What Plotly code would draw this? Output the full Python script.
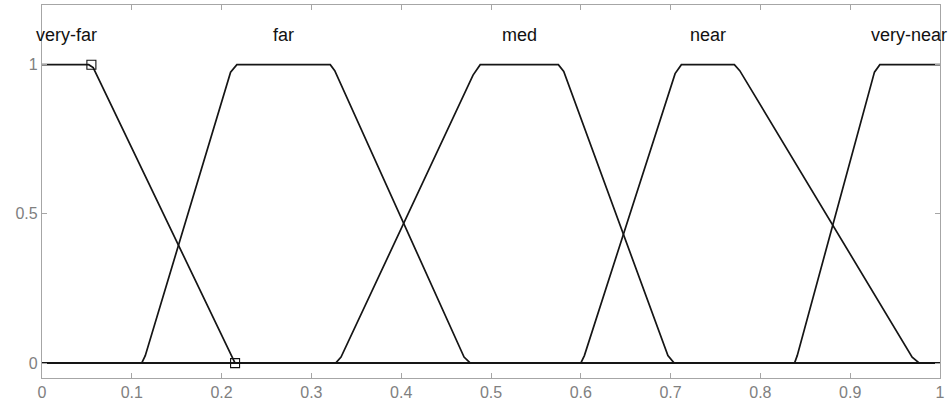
import plotly.graph_objects as go

# Membership functions of the distance variable (x: normalized distance, y: degree).
# Each trapezoid carries a short bevel vertex next to its corners.
x_very_far = [0.0, 0.052, 0.057, 0.215, 1.0]
y_very_far = [1.0, 1.0, 0.99, 0.0, 0.0]

x_far = [0.0, 0.111, 0.115, 0.210, 0.217, 0.321, 0.326, 0.470, 0.477, 1.0]
y_far = [0.0, 0.0, 0.025, 0.975, 1.0, 1.0, 0.98, 0.02, 0.0, 0.0]

x_med = [0.0, 0.327, 0.333, 0.480, 0.488, 0.575, 0.581, 0.697, 0.704, 1.0]
y_med = [0.0, 0.0, 0.02, 0.965, 1.0, 1.0, 0.977, 0.025, 0.0, 0.0]

x_near = [0.0, 0.600, 0.604, 0.705, 0.712, 0.771, 0.777, 0.969, 0.977, 1.0]
y_near = [0.0, 0.0, 0.025, 0.97, 1.0, 1.0, 0.98, 0.02, 0.0, 0.0]

x_very_near = [0.0, 0.838, 0.841, 0.927, 0.933, 1.0]
y_very_near = [0.0, 0.0, 0.025, 0.975, 1.0, 1.0]

set_names = ["very-far", "far", "med", "near", "very-near"]
label_x = [0.0275, 0.269, 0.5315, 0.742, 0.9655]
label_y = 1.10

# Marked breakpoints of the very-far set
marker_x = [0.055, 0.215]
marker_y = [1.0, 0.0]

x_ticks = [0, 0.1, 0.2, 0.3, 0.4, 0.5, 0.6, 0.7, 0.8, 0.9, 1]
x_tick_text = ["0", "0.1", "0.2", "0.3", "0.4", "0.5", "0.6", "0.7", "0.8", "0.9", "1"]
y_ticks = [0, 0.5, 1]
y_tick_text = ["0", "0.5", "1"]

FONT = "Liberation Sans, Arial, sans-serif"
AXIS_GREY = "#a6a6a6"
LINE = "#151515"

fig = go.Figure()
for xs, ys in [(x_very_far, y_very_far), (x_far, y_far), (x_med, y_med),
               (x_near, y_near), (x_very_near, y_very_near)]:
    fig.add_trace(go.Scatter(
        x=xs, y=ys, mode="lines",
        line=dict(color=LINE, width=1.7),
        hoverinfo="skip", showlegend=False,
    ))

fig.add_trace(go.Scatter(
    x=marker_x, y=marker_y, mode="markers",
    marker=dict(symbol="square-open", size=9, color="#111111",
                line=dict(width=1.1, color="#111111")),
    showlegend=False, hoverinfo="skip",
))

for name, lx in zip(set_names, label_x):
    fig.add_annotation(x=lx, y=label_y, text=name, showarrow=False,
                       xanchor="center", yanchor="middle",
                       font=dict(family=FONT, size=18, color="#111111"))

fig.update_xaxes(
    range=[0, 1], tickvals=x_ticks, ticktext=x_tick_text,
    showgrid=False, zeroline=False,
    showline=True, linecolor=AXIS_GREY, linewidth=1.2, mirror="ticks",
    ticks="inside", ticklen=5, tickwidth=1, tickcolor=AXIS_GREY,
    tickfont=dict(family=FONT, size=16, color="#808080"),
)
fig.update_yaxes(
    range=[-0.05, 1.2], tickvals=y_ticks, ticktext=y_tick_text,
    showgrid=False, zeroline=False,
    showline=True, linecolor=AXIS_GREY, linewidth=1.2, mirror="ticks",
    ticks="inside", ticklen=5, tickwidth=1, tickcolor=AXIS_GREY,
    tickfont=dict(family=FONT, size=16, color="#808080"),
)

fig.update_layout(
    width=952, height=410,
    margin=dict(l=42, r=12, t=5, b=32),
    paper_bgcolor="white", plot_bgcolor="white",
    showlegend=False,
)

fig.write_html("out.html")
